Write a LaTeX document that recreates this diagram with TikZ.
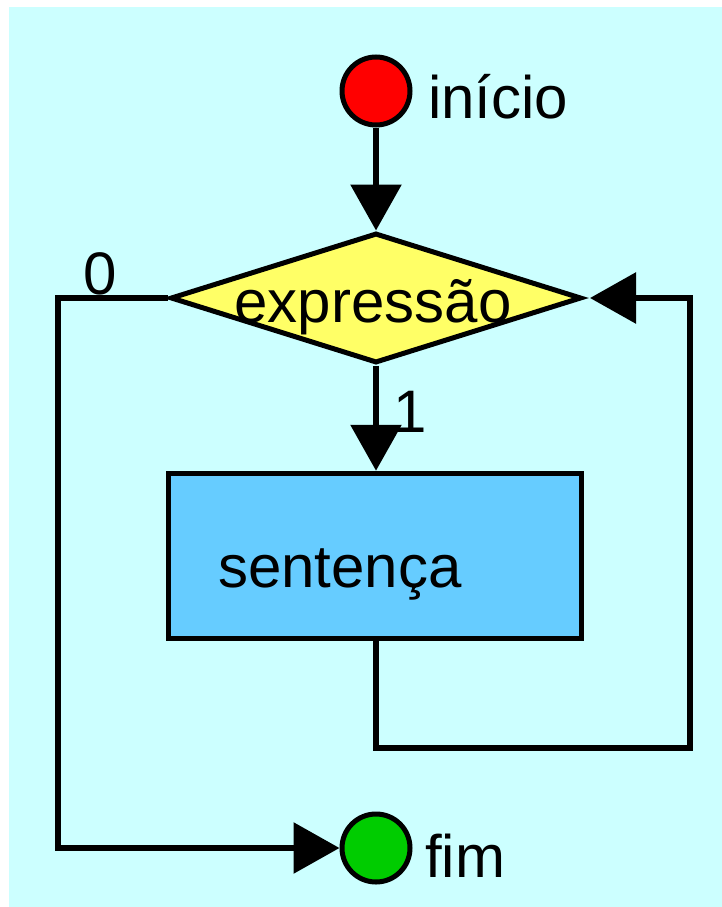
\documentclass[tikz,border=0pt]{standalone}
\usepackage{fontspec}
\setmainfont{Liberation Sans}
\usetikzlibrary{shapes.geometric,arrows.meta}
\definecolor{bgcyan}{HTML}{CCFFFF}
\definecolor{startred}{HTML}{FF0000}
\definecolor{endgreen}{HTML}{00CC00}
\definecolor{decyellow}{HTML}{FFFF66}
\definecolor{boxblue}{HTML}{66CCFF}
\tikzset{
  txt/.style={inner sep=0pt, font=\fontsize{60}{72}\selectfont},
  terminal/.style={circle, draw=black, line width=5pt, minimum size=68pt, inner sep=0pt},
  decbox/.style={diamond, draw=black, line width=5pt, fill=decyellow, minimum width=411pt, minimum height=130pt, inner sep=0pt},
  stmtbox/.style={rectangle, draw=black, line width=5.5pt, fill=boxblue, minimum width=413pt, minimum height=165pt, inner sep=0pt},
  conn/.style={draw=black, line width=6pt},
  arr/.style={conn, -{Triangle[length=46pt, width=50pt]}},
}
\begin{document}
\begin{tikzpicture}[x=1pt, y=-1pt]
  \useasboundingbox (0,0) rectangle (722,907);
  \fill[white] (0,0) rectangle (722,907);
  \fill[bgcyan] (9,7) rectangle (722,907);

  \node[terminal, fill=startred] (start) at (376,91) {};
  \node[txt, anchor=base west] (starttxt) at (428,118) {início};

  \node[decbox] (dec) at (376,298) {};
  \node[txt, anchor=base] (dectxt) at (373,322) {expressão};

  \node[stmtbox] (box) at (375,556) {};
  \node[txt, anchor=base west] (boxtxt) at (218,587) {sentença};

  \node[terminal, fill=endgreen] (end) at (376,848) {};
  \node[txt, anchor=base west] (endtxt) at (425,877) {fim};

  \node[txt, anchor=base] (zero) at (100,294) {0};
  \node[txt, anchor=base] (one) at (410,432) {1};

  \coordinate (c1) at (690,748);
  \coordinate (c2) at (58,848);

  \draw[arr] (start.south) -- (dec.north);
  \draw[arr] (dec.south) -- (dec.south |- box.north);
  \draw[arr, shorten >=6pt] (box.south -| dec.south) |- (c1) |- (dec.east);
  \draw[arr] (dec.west) -| (c2) -- (end.west);
\end{tikzpicture}
\end{document}
